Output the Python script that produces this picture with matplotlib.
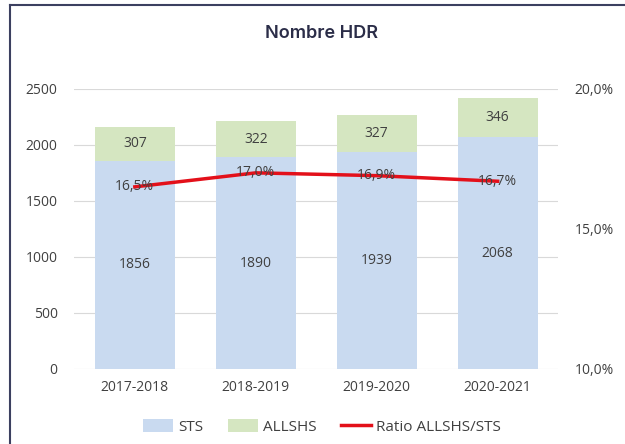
import matplotlib.pyplot as plt
import numpy as np
from matplotlib.lines import Line2D

years = ["2017-2018", "2018-2019", "2019-2020", "2020-2021"]
sts = [1856, 1890, 1939, 2068]
allshs = [307, 322, 327, 346]
ratio = [16.5, 17.0, 16.9, 16.7]

BLUE = "#c9daf0"
GREEN = "#d5e6c1"
RED = "#e3101a"
TEXT = "#404040"

plt.rcParams["font.family"] = ["Open Sans", "DejaVu Sans"]

fig = plt.figure(figsize=(6.25, 4.44), dpi=100)
ax = fig.add_axes([0.119, 0.169, 0.774, 0.631])

x = np.arange(len(years))
b1 = ax.bar(x, sts, 0.66, color=BLUE, label="STS", zorder=2)
b2 = ax.bar(x, allshs, 0.66, bottom=sts, color=GREEN, label="ALLSHS", zorder=2)
for i in range(len(years)):
    ax.text(x[i], sts[i] / 2, str(sts[i]), ha="center", va="center", fontsize=10, color=TEXT, zorder=5)
    ax.text(x[i], sts[i] + allshs[i] / 2, str(allshs[i]), ha="center", va="center", fontsize=10,
            color=TEXT, zorder=5)

ax.set_xlim(-0.5, len(years) - 0.5)
ax.set_ylim(0, 2500)
ax.set_yticks(range(0, 2501, 500))
ax.set_xticks(x, years)
ax.grid(axis="y", color="#d9d9d9", lw=0.8, zorder=0)
for s in ax.spines.values():
    s.set_visible(False)
ax.tick_params(length=0, labelsize=10, colors=TEXT, pad=8)
ax.tick_params(axis="y", pad=12)

ax2 = ax.twinx()
ln, = ax2.plot(x, ratio, color=RED, lw=2.5, label="Ratio ALLSHS/STS", zorder=4)
for i in range(len(years)):
    ax2.text(x[i], ratio[i], f"{ratio[i]:.1f}%".replace(".", ","), ha="center", va="center",
             fontsize=10, color=TEXT, zorder=5)
ax2.set_ylim(10, 20)
ax2.set_yticks([10, 15, 20], ["10,0%", "15,0%", "20,0%"])
for s in ax2.spines.values():
    s.set_visible(False)
ax2.tick_params(length=0, labelsize=10, colors=TEXT, pad=12)

fig.text(0.515, 0.925, "Nombre HDR", ha="center", va="center", fontsize=13, color="#2b2d48",
         family=["Inter", "DejaVu Sans"], fontweight="semibold")

fig.legend(handles=[b1, b2, ln], loc="center", bbox_to_anchor=(0.515, 0.038), ncol=3, frameon=False,
           fontsize=11, handlelength=2.0, handleheight=0.9, columnspacing=1.6, handletextpad=0.3,
           labelcolor=TEXT)

# frame lines at top and left, as in the source document
fig.add_artist(Line2D([10 / 625, 1], [1 - 5 / 444, 1 - 5 / 444], transform=fig.transFigure,
                      color="#3c4060", lw=1.5))
fig.add_artist(Line2D([10 / 625, 10 / 625], [0, 1 - 5 / 444], transform=fig.transFigure,
                      color="#3c4060", lw=1.5))

fig.savefig("out.png", dpi=100)
